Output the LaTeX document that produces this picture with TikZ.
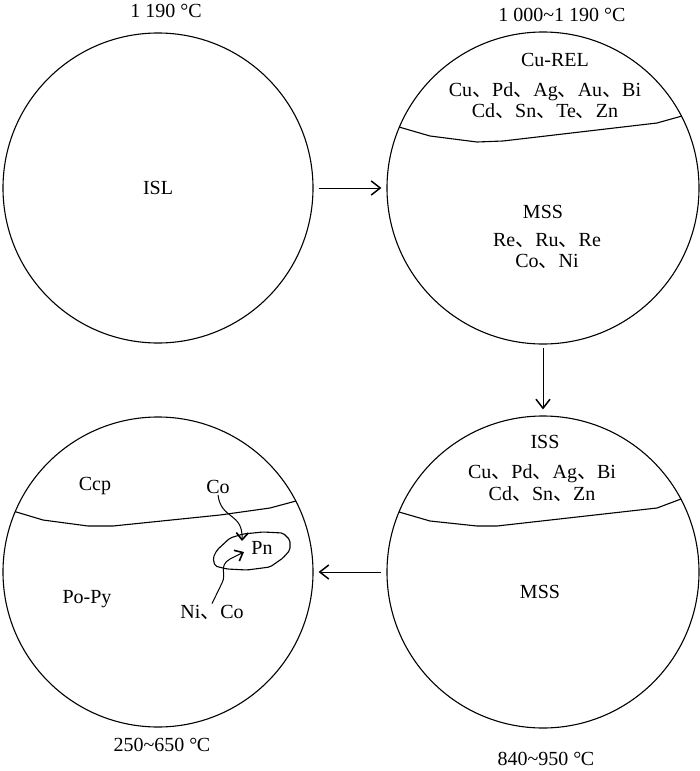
\documentclass[tikz,border=0pt]{standalone}
\usepackage{fontspec}
\setmainfont{Liberation Serif}
\newfontfamily\cjk{Noto Sans CJK SC}
\usetikzlibrary{arrows.meta}
\newcommand\dn{{\cjk 、}}
\newcommand\degc{°\kern-0.5pt C}
\begin{document}
\begin{tikzpicture}[x=1pt,y=-1pt,
  every node/.style={font=\fontsize{20}{24}\selectfont, inner sep=1pt},
  circ/.style={draw, circle, line width=1.1pt, minimum size=#1, inner sep=0pt},
  arr/.style={line width=1pt, -{Straight Barb[length=9pt,width=14pt,line width=1.5pt]}},
  arrS/.style={line width=1pt, -{Straight Barb[length=7pt,width=12pt,line width=1.6pt]}},
  bound/.style={line width=1.1pt, line join=round}]
\useasboundingbox (0,0) rectangle (700,771);

% circles
\node[circ=310pt] (c1) at (158,188) {ISL};
\node[circ=312pt] (c2) at (543,188) {};
\node[circ=312pt] (c3) at (543,572) {};
\node[circ=310pt] (c4) at (158,572) {};

% connectors
\draw[arr, shorten <=5pt, shorten >=5pt] (c1) -- (c2);
\draw[arr, shorten <=3pt, shorten >=6pt] (c2) -- (c3);
\draw[arr, shorten <=5pt, shorten >=5pt] (c3) -- (c4);

% temperature labels
\node (t1) at (166,11) {1 190 °C};
\node (t2) at (562,15) {1 000\textasciitilde 1 190 °C};
\node (t4) at (162,745) {250\textasciitilde 650 \degc};
\node (t3) at (546,759) {840\textasciitilde 950 \degc};

% circle 2
\begin{scope}
\clip (543,188) circle (156);
\draw[bound] (390,124) -- (399,127) -- (430,136) -- (477,142) -- (503,141) -- (657,123) -- (682,116) -- (700,110);
\end{scope}
\node (curel) at (555,60) {Cu-REL};
\node[align=center, font=\fontsize{20}{21}\selectfont] (cu1) at (545,101) {Cu\dn Pd\dn Ag\dn Au\dn Bi\\Cd\dn Sn\dn Te\dn Zn};
\node (mss1) at (543,212) {MSS};
\node[align=center, font=\fontsize{20}{21.5}\selectfont] (re1) at (547,251) {Re\dn Ru\dn Re\\Co\dn Ni};

% circle 3
\begin{scope}
\clip (543,572) circle (156);
\draw[bound] (390,509) -- (399,512) -- (430,521) -- (477,526) -- (497,526) -- (657,508) -- (681,499) -- (700,493);
\end{scope}
\node (iss) at (545,442) {ISS};
\node[align=center, font=\fontsize{20}{22}\selectfont] (cu2) at (542,483) {Cu\dn Pd\dn Ag\dn Bi\\Cd\dn Sn\dn Zn};
\node (mss2) at (540,592) {MSS};

% circle 4
\begin{scope}
\clip (158,572) circle (155);
\draw[bound] (0,507) -- (13,511) -- (43,520) -- (88,526) -- (113,526) -- (220,515) -- (270,508) -- (296,501) -- (320,494);
\end{scope}
\node (ccp) at (95,486) {Ccp};
\node (co) at (218,487) {Co};
\node (pn) at (262,548) {Pn};
\node (popy) at (87,599) {Po-Py};
\node (nico) at (212,612) {Ni\dn Co};
\draw[line width=1.1pt, rounded corners=2pt] (213,558) -- (217,550) -- (230,538) -- (243,534) -- (263,532) -- (283,533) -- (290,540) -- (290,550) -- (283,558) -- (270,567) -- (247,570) -- (227,569) -- (215,566) -- cycle;
\coordinate (tipA) at (242,541);
\coordinate (tipB) at (244,552);
\draw[arrS] (co.south) .. controls (221,520) and (243,512) .. (tipA);
\draw[arrS] (nico.north) -- (222,583) .. controls (227,574) and (218,566) .. (230,559) -- (tipB);
\end{tikzpicture}
\end{document}
